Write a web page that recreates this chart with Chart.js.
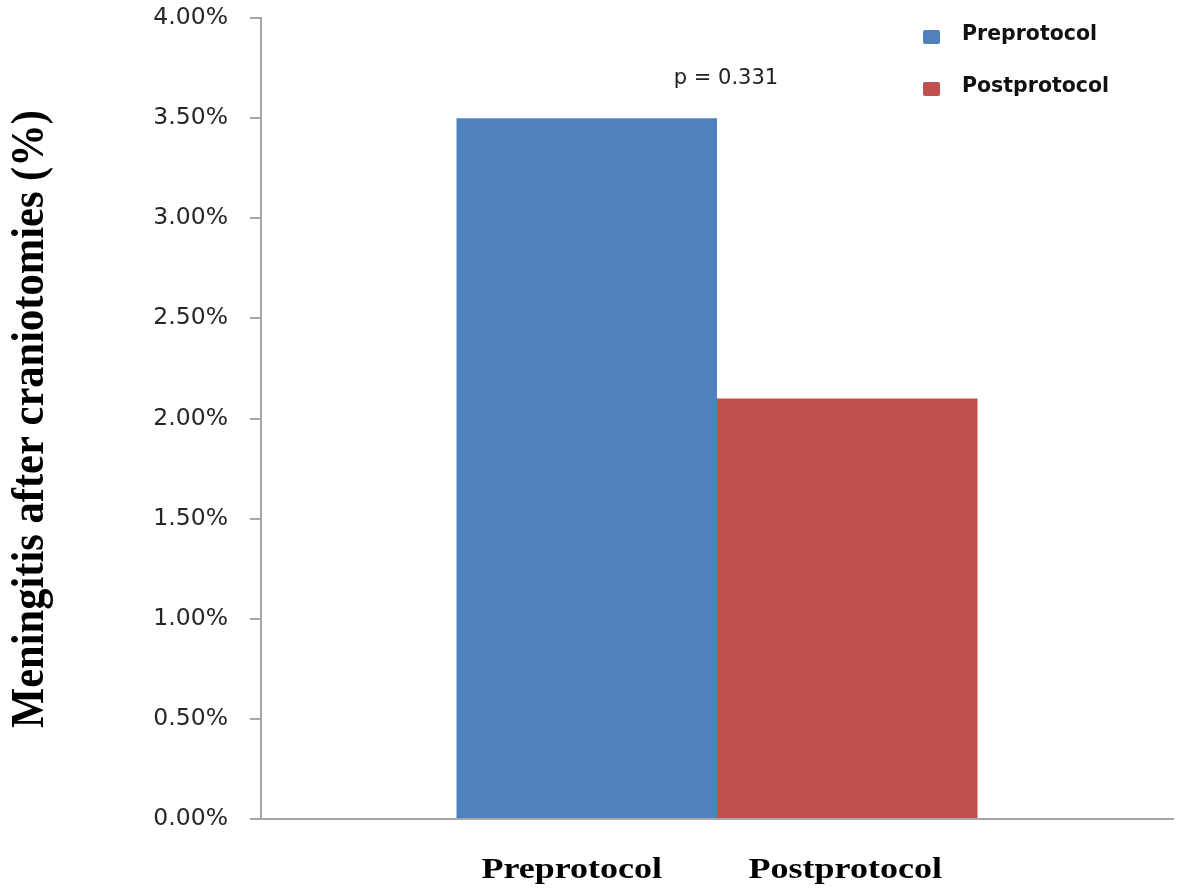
<!DOCTYPE html>
<html>
<head>
<meta charset="utf-8">
<script src="https://cdn.jsdelivr.net/npm/chart.js@4.4.1/dist/chart.umd.min.js"></script>
<style>
  html, body { margin: 0; padding: 0; background: #ffffff; }
  #wrap { width: 1181px; height: 895px; position: relative; }
</style>
</head>
<body>
<div id="wrap"><canvas id="c" width="1181" height="895"></canvas></div>
<script>
// ---- data ----
const groups = ["Preprotocol", "Postprotocol"];
const preValues = [3.5];
const postValues = [2.1];
const yTicks = [0, 0.5, 1, 1.5, 2, 2.5, 3, 3.5, 4];
const yTitle = "Meningitis after craniotomies (%)";
const pText = "p = 0.331";

const colors = ["#4F81BD", "#C0504D"];

const overlay = {
  id: 'overlay',
  afterDraw(chart) {
    const ctx = chart.ctx;
    ctx.save();
    // y axis title
    ctx.save();
    ctx.translate(43, 419);
    ctx.rotate(-Math.PI / 2);
    ctx.scale(0.925, 1);
    ctx.font = 'bold 46px "Liberation Serif", "Times New Roman", serif';
    ctx.fillStyle = '#000';
    ctx.textAlign = 'center';
    ctx.textBaseline = 'alphabetic';
    ctx.fillText(yTitle, 0, 0);
    ctx.restore();

    // category labels under bars
    const dx = [-15, -2];
    chart.data.datasets.forEach((ds, i) => {
      const bar = chart.getDatasetMeta(i).data[0];
      ctx.save();
      ctx.translate(bar.x + dx[i], 878);
      ctx.scale(1.2, 1);
      ctx.font = 'bold 30px "Liberation Serif", "Times New Roman", serif';
      ctx.fillStyle = '#000';
      ctx.textAlign = 'center';
      ctx.textBaseline = 'alphabetic';
      ctx.fillText(ds.label, 0, 0);
      ctx.restore();
    });

    // p value
    const xs = chart.scales.x, ys = chart.scales.y;
    ctx.font = '21px "DejaVu Sans", sans-serif';
    ctx.fillStyle = '#222';
    ctx.textAlign = 'center';
    ctx.textBaseline = 'middle';
    ctx.fillText(pText, xs.getPixelForValue(0) + 9, ys.getPixelForValue(preValues[0]) - 40);

    // legend
    chart.data.datasets.forEach((ds, i) => {
      const y0 = 30 + i * 52;
      ctx.fillStyle = ds.backgroundColor;
      ctx.beginPath();
      ctx.roundRect(923, y0, 17, 14, 2);
      ctx.fill();
      ctx.font = 'bold 20.5px "DejaVu Sans", sans-serif';
      ctx.fillStyle = '#111';
      ctx.textAlign = 'left';
      ctx.textBaseline = 'middle';
      ctx.fillText(ds.label, 962, y0 + 5);
    });
    ctx.restore();
  }
};

new Chart(document.getElementById('c'), {
  type: 'bar',
  data: {
    labels: [''],
    datasets: [
      { label: groups[0], data: preValues, backgroundColor: colors[0], borderWidth: 0,
        categoryPercentage: 0.5713, barPercentage: 1 },
      { label: groups[1], data: postValues, backgroundColor: colors[1], borderWidth: 0,
        categoryPercentage: 0.5713, barPercentage: 1 }
    ]
  },
  options: {
    responsive: false,
    animation: false,
    devicePixelRatio: 1,
    layout: { padding: { top: 18, right: 8, left: 0, bottom: 0 } },
    plugins: { legend: { display: false }, tooltip: { enabled: false } },
    scales: {
      x: {
        grid: { display: false },
        border: { display: true, color: '#a6a6a6', width: 2 },
        ticks: { display: false },
        afterFit(s) { s.height = 76; s.paddingLeft = 0; s.paddingRight = 0; }
      },
      y: {
        min: 0, max: 4,
        afterBuildTicks(s) { s.ticks = yTicks.map(v => ({ value: v })); },
        grid: { drawOnChartArea: false, drawTicks: true, tickLength: 11, color: '#a6a6a6', lineWidth: 2 },
        border: { display: true, color: '#a6a6a6', width: 2 },
        ticks: {
          padding: 22,
          color: '#262626',
          font: { family: '"DejaVu Sans", sans-serif', size: 23.5 },
          callback: v => v.toFixed(2) + '%'
        },
        afterFit(s) { s.width = 261; s.paddingTop = 0; s.paddingBottom = 0; }
      }
    }
  },
  plugins: [overlay]
});
</script>
</body>
</html>
